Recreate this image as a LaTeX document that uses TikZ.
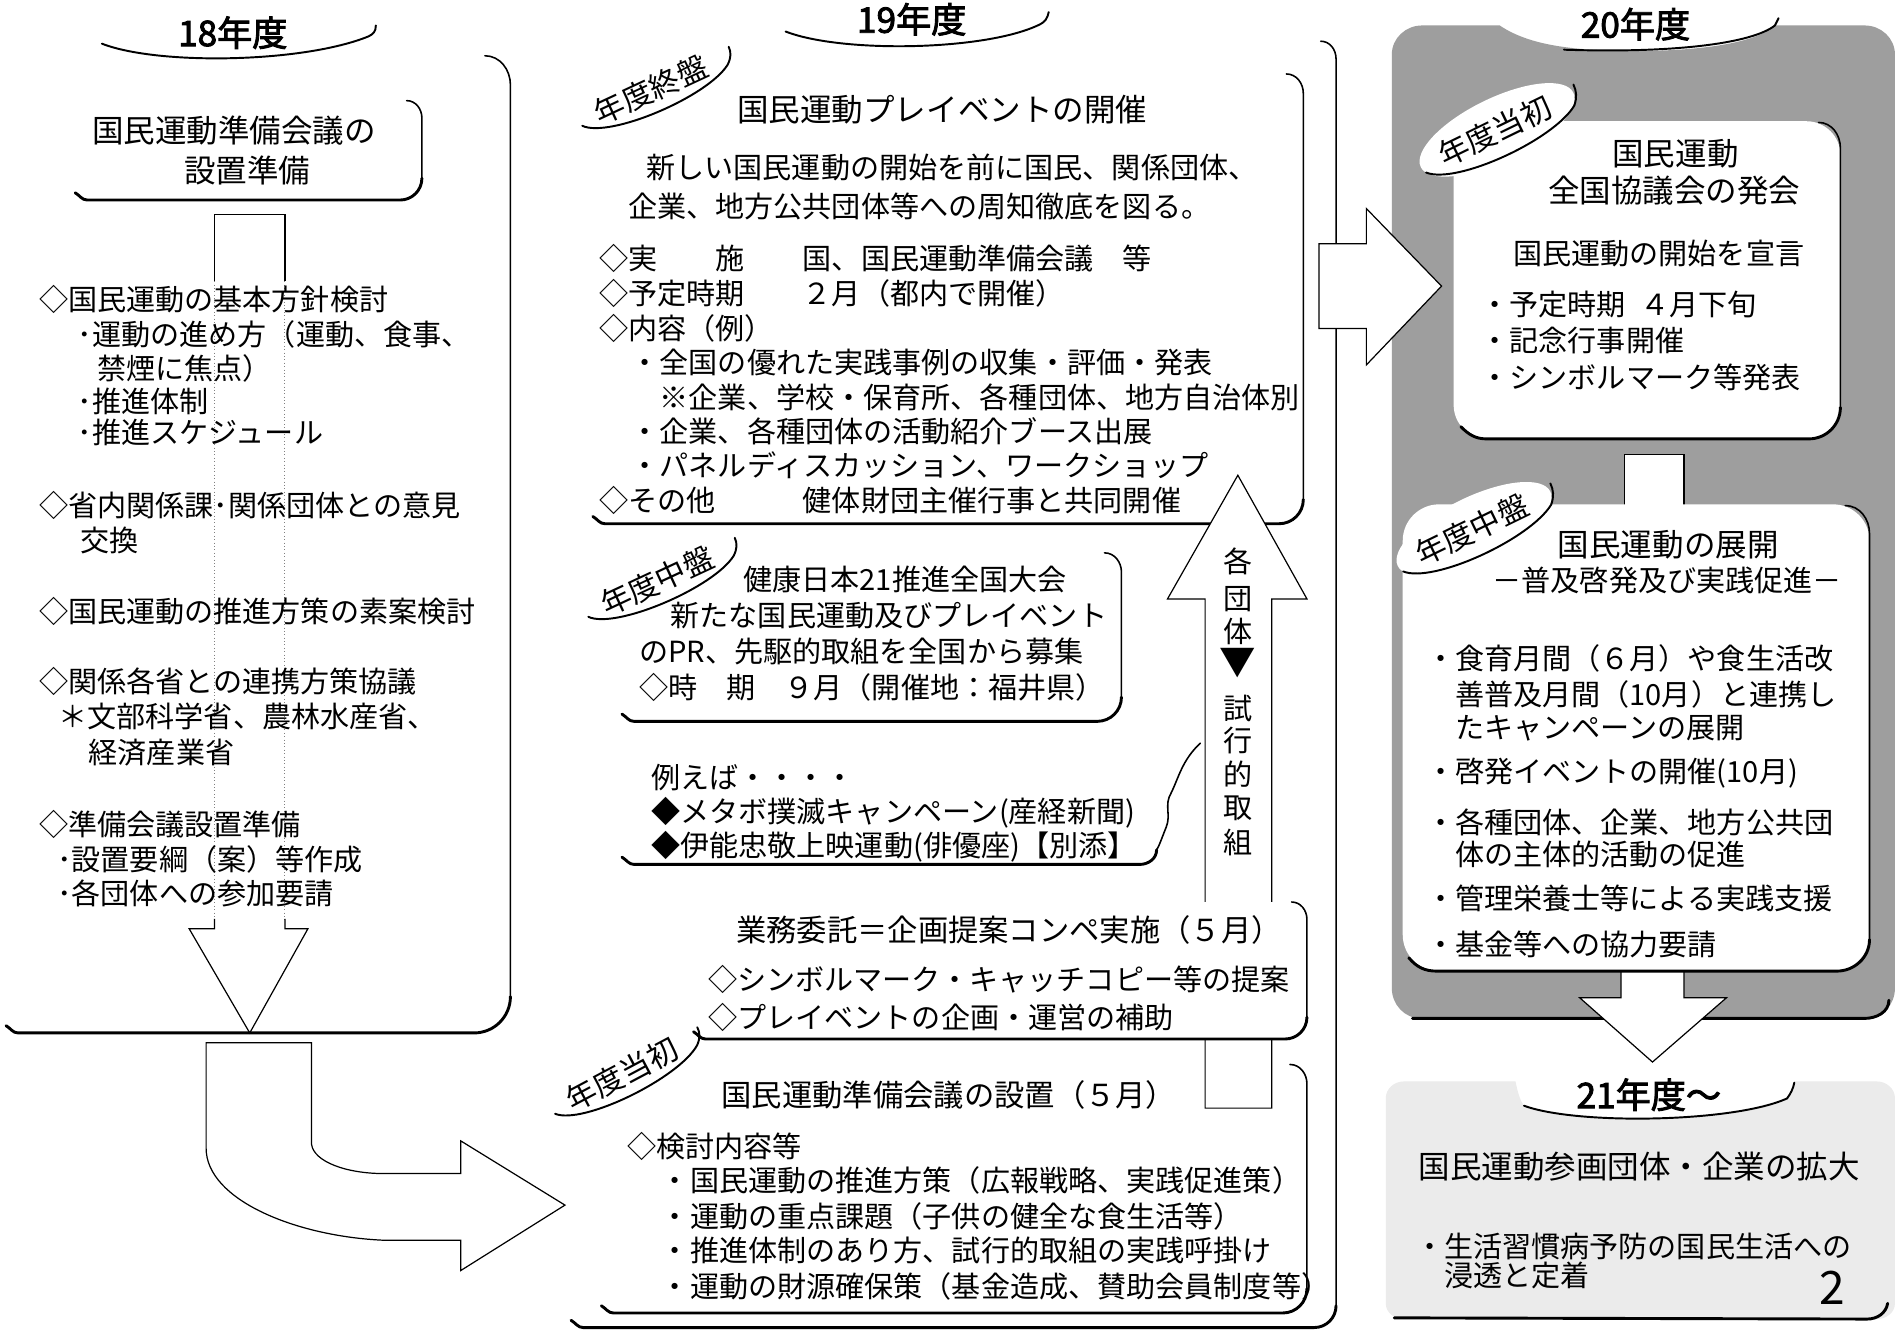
\documentclass[tikz,border=0pt]{standalone}
\usepackage{fontspec}
\setmainfont{Noto Sans CJK JP}
\newfontfamily\tfont[FakeBold=2.5]{Noto Sans CJK JP}
\definecolor{gthree}{gray}{0.62}
\definecolor{gtwo}{gray}{0.92}
\newcommand{\fsz}[1]{\fontsize{#1}{#1}\selectfont}
\newcommand{\shbox}[5]{%
  \draw[edgeR] ({#3-#5*0.7},#2) to[out=0,in=90] (#3,{#2+#5*0.8}) -- (#3,{#4-#5});
  \draw[edgeB] (#3,{#4-#5}) to[out=-90,in=0] ({#3-#5},#4) -- ({#1+10},#4) to[out=180,in=-30] (#1,{#4-6});
}
\newcommand{\lblarc}[5]{%
  \node[lbl, rotate=#4] (#1) at (#2,#3) {#5};
  \begin{scope}[shift={(#2,#3)}, rotate=#4]
    \draw[arcl] (-64,3) .. controls (-48,22) and (40,25) .. (66,8) .. controls (71,4) and (73,0) .. (73,-5);
  \end{scope}}
\newcommand{\lblell}[5]{%
  \begin{scope}[shift={(#2,#3)}, rotate=#4]
    \fill[white] (2,0) ellipse [x radius=70pt, y radius=26pt];
    \draw[arcl] (-66,6) .. controls (-48,26) and (40,28) .. (68,10) .. controls (73,5) and (75,0) .. (75,-6);
  \end{scope}
  \node[lbl, rotate=#4] (#1) at (#2,#3) {#5};}
\begin{document}
\begin{tikzpicture}[x=1pt,y=-1pt,
  tb/.style={anchor=base west, inner sep=0pt, font=\fsz{24}, yshift=-9.1pt},
  td/.style={anchor=base west, inner sep=0pt, font=\fsz{25}, yshift=-9.5pt},
  th/.style={anchor=base west, inner sep=0pt, font=\fsz{26}, yshift=-9.9pt},
  tc/.style={anchor=base, inner sep=0pt, font=\fsz{26}, yshift=-9.9pt},
  tv/.style={anchor=base, inner sep=0pt, font=\fsz{24}, yshift=-9.1pt},
  yr/.style={anchor=base, inner sep=0pt, font=\fsz{29}\tfont, yshift=-11pt},
  lbl/.style={inner sep=0pt, font=\fsz{25}},
  edgeR/.style={line width=1.3pt, line cap=round},
  edgeB/.style={line width=2.4pt, line cap=round},
  arcl/.style={line width=1.6pt, line cap=round},
  blk/.style={draw=black, line width=1pt, fill=white, line join=miter},
]
\useasboundingbox (0,0) rectangle (1568,1099);
\fill[white] (0,0) rectangle (1568,1099);

% ===== column 3 backgrounds =====
\fill[gthree] (1148,45) to[out=90,in=180] (1173,21) -- (1237,21)
  .. controls (1262,38) and (1300,42) .. (1350,42)
  .. controls (1410,42) and (1450,34) .. (1464,21)
  -- (1538,21) to[out=0,in=90] (1563,45) -- (1563,815) to[out=-90,in=0] (1540,840)
  -- (1172,840) to[out=180,in=-90] (1148,815) -- cycle;
\draw[arcl] (1290,41) .. controls (1380,44) and (1445,36) .. (1464,21) -- (1467,15);
\draw[edgeB] (1165,840) -- (1538,840) to[out=0,in=-90] (1558,825);

\fill[gtwo] (1143,1075) -- (1143,906) to[out=90,in=180] (1158,892) -- (1250,892)
  .. controls (1252,902) and (1254,908) .. (1257,912)
  .. controls (1300,928) and (1430,926) .. (1474,906)
  .. controls (1477,902) and (1479,898) .. (1480,892)
  -- (1548,892) to[out=0,in=90] (1563,906) -- (1563,1075) to[out=-90,in=0] (1548,1088)
  -- (1158,1088) to[out=180,in=-90] (1143,1075) -- cycle;
\draw[arcl] (1257,912) .. controls (1300,928) and (1430,926) .. (1474,906) .. controls (1477,902) and (1479,898) .. (1480,893);
\draw[edgeB] (1150,1087) -- (1540,1088) to[out=0,in=-100] (1557,1075);

% ===== column 1 =====
\shbox{5}{46}{421}{852}{30}
\shbox{62}{83}{348}{165}{18}
\draw[arcl] (84,36) .. controls (130,54) and (250,52) .. (304,30) .. controls (308,28) and (310,26) .. (310,21);
% down arrow
\draw[line width=1pt] (177,232) -- (177,177) -- (235,177) -- (235,232);
\draw[line width=0.8pt, gray, dotted] (177,232) -- (177,760) (235,232) -- (235,760);
\draw[line width=1pt, line join=miter] (177,758) -- (177,766) -- (156,766) -- (206,852) -- (254,766) -- (235,766) -- (235,758);
% curved arrow
\draw[blk] (170,860) -- (257,860) -- (257,944) .. controls (259,958) and (285,968) .. (317,968)
  -- (380,968) -- (380,941) -- (466,994) -- (380,1048) -- (380,1023) -- (317,1023)
  .. controls (245,1020) and (170,990) .. (170,947) -- cycle;

% ===== column 2 =====
\shbox{471}{34}{1102}{1095}{18}
\draw[arcl] (648,26) .. controls (694,44) and (814,42) .. (858,20) .. controls (862,18) and (864,15) .. (865,10);
\shbox{489}{61}{1075}{432}{20}
\shbox{513}{456}{925}{595}{20}
\draw[edgeR] (990,613) .. controls (975,627) and (972,642) .. (966,654) .. controls (960,664) and (966,672) .. (962,682) .. controls (958,692) and (956,698) .. (954,701);
\draw[edgeB] (954,701) to[out=-90,in=0] (940,713) -- (523,713) to[out=180,in=-30] (513,707);
% up arrow
\draw[blk] (994,914) -- (994,494) -- (963,494) -- (1021,392) -- (1078,494) -- (1049,494) -- (1049,914) -- cycle;
\fill[white] (560,744) rectangle (1076,856);
\shbox{572}{744}{1078}{857}{18}
\shbox{496}{878}{1078}{1083}{20}
% right arrow to column 3
\draw[blk] (1088,201) -- (1127,201) -- (1127,172) -- (1189,236) -- (1127,301) -- (1127,271) -- (1088,271) -- cycle;

% ===== column 3 boxes =====
\draw[blk] (1340,375) rectangle (1389,422);
\draw[blk] (1337,795) -- (1337,823) -- (1303,823) -- (1363,876) -- (1424,823) -- (1389,823) -- (1389,795);
\fill[white, rounded corners=28pt] (1199,100) rectangle (1518,362);
\draw[edgeR] (1500,101) to[out=0,in=90] (1518,122) -- (1518,336);
\draw[edgeB] (1518,336) to[out=-90,in=0] (1492,362) -- (1226,362) to[out=180,in=-45] (1205,352);
\fill[white, rounded corners=30pt] (1157,416) rectangle (1542,801);
\draw[edgeR] (1522,417) to[out=0,in=90] (1542,440) -- (1542,775);
\draw[edgeB] (1542,775) to[out=-90,in=0] (1515,801) -- (1185,801) to[out=180,in=-50] (1162,790);

% ===== labels =====
\lblarc{lA}{537}{74}{25}{年度終盤}
\lblarc{lB}{542}{479}{25}{年度中盤}
\lblarc{lE}{513}{886}{28}{年度当初}
\lblell{lF}{1233}{108}{26}{年度当初}
\lblell{lG}{1214}{437}{26}{年度中盤}

% ===== texts column 1 =====
\node[yr] (t18) at (192,27) {18年度};
\node[tc] (c1a) at (193,108) {国民運動準備会議の};
\node[tc] (c1b) at (204,141) {設置準備};
\node[tb] (c1l1) at (32,247) {◇国民運動の基本方針検討};
\node[tb] (c1l2) at (64,276) {･運動の進め方（運動、食事、};
\node[tb] (c1l3) at (80,304) {禁煙に焦点）};
\node[tb] (c1l4) at (64,331) {･推進体制};
\node[tb] (c1l5) at (64,357) {･推進スケジュール};
\node[tb] (c1l6) at (32,417) {◇省内関係課･関係団体との意見};
\node[tb] (c1l7) at (66,446) {交換};
\node[tb] (c1l8) at (32,504) {◇国民運動の推進方策の素案検討};
\node[tb] (c1l9) at (32,562) {◇関係各省との連携方策協議};
\node[tb] (c1l10) at (48,591) {＊文部科学省、農林水産省、};
\node[tb] (c1l11) at (73,621) {経済産業省};
\node[tb] (c1l12) at (32,680) {◇準備会議設置準備};
\node[tb] (c1l13) at (47,709) {･設置要綱（案）等作成};
\node[tb] (c1l14) at (47,737) {･各団体への参加要請};

% ===== texts column 2 =====
\node[yr] (t19) at (752,16) {19年度};
\node[th] (a0) at (608,90) {国民運動プレイベントの開催};
\node[tb] (a1) at (533,138) {新しい国民運動の開始を前に国民、関係団体、};
\node[tb] (a2) at (518,170) {企業、地方公共団体等への周知徹底を図る。};
\node[tb] (a3) at (494,213) {◇実　　施　　国、国民運動準備会議　等};
\node[tb] (a4) at (494,242) {◇予定時期　　２月（都内で開催）};
\node[tb] (a5) at (494,271) {◇内容（例）};
\node[tb] (a6) at (520,299) {・全国の優れた実践事例の収集・評価・発表};
\node[tb] (a7) at (544,328) {※企業、学校・保育所、各種団体、地方自治体別};
\node[tb] (a8) at (520,356) {・企業、各種団体の活動紹介ブース出展};
\node[tb] (a9) at (520,384) {・パネルディスカッション、ワークショップ};
\node[tb] (a10) at (494,413) {◇その他　　　健体財団主催行事と共同開催};

\node[tb] (b1) at (613,478) {健康日本21推進全国大会};
\node[tb] (b2) at (553,508) {新たな国民運動及びプレイベント};
\node[tb] (b3) at (527,537) {のPR、先駆的取組を全国から募集};
\node[tb] (b4) at (527,567) {◇時　期　９月（開催地：福井県）};

\node[tb] (cc1) at (537,641) {例えば・・・・};
\node[tb] (cc2) at (537,669) {◆メタボ撲滅キャンペーン(産経新聞)};
\node[tb] (cc3) at (537,697) {◆伊能忠敬上映運動(俳優座)【別添】};

\node[tv] (v1) at (1021,463) {各};
\node[tv] (v2) at (1021,494) {団};
\node[tv] (v3) at (1021,521) {体};
\node[anchor=base, inner sep=0pt, font=\fsz{30}, yshift=-11pt] (v4) at (1021,546) {▼};
\node[tv] (v5) at (1021,584) {試};
\node[tv] (v6) at (1021,611) {行};
\node[tv] (v7) at (1021,639) {的};
\node[tv] (v8) at (1021,666) {取};
\node[tv] (v9) at (1021,695) {組};

\node[td] (d0) at (607,767) {業務委託＝企画提案コンペ実施（５月）};
\node[tb] (d1) at (584,808) {◇シンボルマーク・キャッチコピー等の提案};
\node[tb] (d2) at (584,839) {◇プレイベントの企画・運営の補助};

\node[td] (e0) at (595,903) {国民運動準備会議の設置（５月）};
\node[tb] (e1) at (517,946) {◇検討内容等};
\node[tb] (e2) at (545,974) {・国民運動の推進方策（広報戦略、実践促進策）};
\node[tb] (e3) at (545,1003) {・運動の重点課題（子供の健全な食生活等）};
\node[tb] (e4) at (545,1031) {・推進体制のあり方、試行的取組の実践呼掛け};
\node[tb] (e5) at (545,1061) {・運動の財源確保策（基金造成、賛助会員制度等）};

% ===== texts column 3 =====
\node[yr] (t20) at (1349,20) {20年度};
\node[tc] (f0) at (1382,127) {国民運動};
\node[tc] (f1) at (1381,157) {全国協議会の発会};
\node[tb] (f2) at (1248,209) {国民運動の開始を宣言};
\node[tb] (f3) at (1221,251) {・予定時期\hspace{12pt}４月下旬};
\node[tb] (f4) at (1221,281) {・記念行事開催};
\node[tb] (f5) at (1221,311) {・シンボルマーク等発表};

\node[tc] (g0) at (1376,449) {国民運動の展開};
\node[tb] (g1) at (1231,479) {－普及啓発及び実践促進－};
\node[tb] (g2) at (1176,543) {・食育月間（６月）や食生活改};
\node[tb] (g3) at (1200,573) {善普及月間（10月）と連携し};
\node[tb] (g4) at (1200,600) {たキャンペーンの展開};
\node[tb] (g5) at (1176,636) {・啓発イベントの開催(10月)};
\node[tb] (g6) at (1176,678) {・各種団体、企業、地方公共団};
\node[tb] (g7) at (1200,705) {体の主体的活動の促進};
\node[tb] (g8) at (1176,741) {・管理栄養士等による実践支援};
\node[tb] (g9) at (1176,779) {・基金等への協力要請};

\node[yr] (t21) at (1360,903) {21年度～};
\node[tc] (h0) at (1352,962) {国民運動参画団体・企業の拡大};
\node[tb] (h1) at (1167,1028) {・生活習慣病予防の国民生活への};
\node[tb] (h2) at (1191,1052) {浸透と定着};
\node[anchor=base, inner sep=0pt, font=\fsz{38}, yshift=-13.8pt] (pg) at (1511,1062) {2};
\end{tikzpicture}
\end{document}
